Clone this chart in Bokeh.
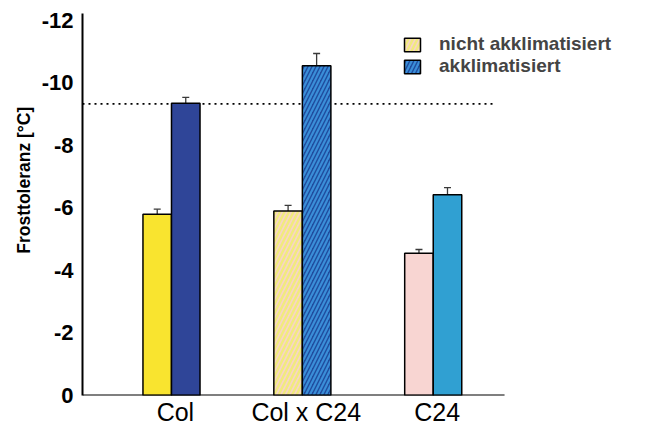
from bokeh.plotting import figure
from bokeh.models import (ColumnDataSource, Range1d, FixedTicker, Whisker, TeeHead,
                          Legend, LegendItem)
from bokeh.embed import file_html
from bokeh.resources import INLINE

# ---- data ----
cultivars = ["Col", "Col x C24", "C24"]
nicht_mean = [-5.8, -5.9, -4.55]
nicht_err = [0.16, 0.18, 0.12]
akkl_mean = [-9.35, -10.55, -6.42]
akkl_err = [0.19, 0.39, 0.23]
reference_level = -9.33
y_ticks = [0, -2, -4, -6, -8, -10, -12]
legend_labels = ["nicht akklimatisiert", "akklimatisiert"]
y_label = "Frosttoleranz [°C]"

# ---- styles ----
nicht_fill = ["#F9E42F", "#F7D4C8", "#F8D5D2"]
nicht_hatch_pat = [" ", "/", " "]
nicht_hatch_col = ["#F9E42F", "#F1EA7E", "#F8D5D2"]
akkl_fill = ["#2F4598", "#1F4C9E", "#30A0D2"]
akkl_hatch_pat = [" ", "/", " "]
akkl_hatch_col = ["#2F4598", "#3A8ED8", "#30A0D2"]

FONT = "Liberation Sans"
bw = 0.218
x_start, x_end = 0.32, 4.729      # frame extends under the legend
axis_end = 3.545                  # where the drawn x axis line stops
ref_end = 3.453                   # where the dotted reference line stops
centers = [i + 1 for i in range(len(cultivars))]

src_n = ColumnDataSource(dict(
    x=[c - bw / 2 for c in centers], top=nicht_mean,
    upper=[m - e for m, e in zip(nicht_mean, nicht_err)],
    lower=[m + e for m, e in zip(nicht_mean, nicht_err)],
    fill=nicht_fill, hp=nicht_hatch_pat, hc=nicht_hatch_col))
src_a = ColumnDataSource(dict(
    x=[c + bw / 2 for c in centers], top=akkl_mean,
    upper=[m - e for m, e in zip(akkl_mean, akkl_err)],
    lower=[m + e for m, e in zip(akkl_mean, akkl_err)],
    fill=akkl_fill, hp=akkl_hatch_pat, hc=akkl_hatch_col))

p = figure(width=659, height=428, output_backend="svg", toolbar_location=None,
           x_range=Range1d(x_start, x_end), y_range=Range1d(0, -12.22),
           min_border_left=82, min_border_right=0, min_border_top=13,
           min_border_bottom=33)
p.outline_line_color = None
p.grid.grid_line_color = None
p.background_fill_color = "white"
p.border_fill_color = "white"

# dotted reference line
p.segment(x0=[x_start], x1=[ref_end], y0=[reference_level], y1=[reference_level],
          line_color="black", line_width=1.6, line_dash="2 4")

r_n = p.vbar(x="x", top="top", bottom=0, width=bw, source=src_n,
             fill_color="fill", line_color="black", line_width=1.5,
             hatch_pattern="hp", hatch_color="hc", hatch_scale=9, hatch_weight=2.5)
r_a = p.vbar(x="x", top="top", bottom=0, width=bw, source=src_a,
             fill_color="fill", line_color="black", line_width=1.5,
             hatch_pattern="hp", hatch_color="hc", hatch_scale=8, hatch_weight=2.2)

for src in (src_n, src_a):
    w = Whisker(base="x", upper="upper", lower="lower", source=src,
                line_color="#3a3a3a", line_width=1.3,
                upper_head=TeeHead(size=7, line_color="#3a3a3a", line_width=1.3),
                lower_head=TeeHead(size=7, line_color="#3a3a3a", line_width=1.3))
    p.add_layout(w)

# x axis line (stops short of the legend area)
p.segment(x0=[x_start], x1=[axis_end], y0=[0], y1=[0], line_color="black", line_width=2)

# axes
p.xaxis.ticker = FixedTicker(ticks=[c + 0.03 for c in centers])
p.xaxis.major_label_overrides = {c + 0.03: name for c, name in zip(centers, cultivars)}
p.xaxis.axis_line_color = None
p.yaxis.ticker = FixedTicker(ticks=y_ticks)
p.yaxis.major_label_overrides = {t: str(t) for t in y_ticks}
p.yaxis.axis_line_color = "black"
p.yaxis.axis_line_width = 2
for ax in (p.xaxis, p.yaxis):
    ax.major_tick_line_color = None
    ax.minor_tick_line_color = None
    ax.major_tick_out = 0
    ax.major_tick_in = 0
    ax.minor_tick_out = 0
    ax.major_label_text_font = FONT
    ax.major_label_text_color = "black"
p.xaxis.major_label_text_font_size = "25px"
p.xaxis.major_label_standoff = 2
p.yaxis.major_label_text_font_size = "22px"
p.yaxis.major_label_text_font_style = "bold"
p.yaxis.major_label_standoff = 9

p.yaxis.axis_label = "\u00a0" * 10 + y_label
p.yaxis.axis_label_text_font = FONT
p.yaxis.axis_label_text_font_size = "17.5px"
p.yaxis.axis_label_text_font_style = "bold"
p.yaxis.axis_label_text_color = "black"
p.yaxis.axis_label_standoff = 5

legend = Legend(items=[LegendItem(label=legend_labels[0], renderers=[r_n], index=1),
                       LegendItem(label=legend_labels[1], renderers=[r_a], index=1)],
                location=(320, 318), padding=0, margin=0, spacing=0,
                glyph_width=20, glyph_height=17, label_standoff=17,
                label_text_font=FONT, label_text_font_size="19px",
                label_text_font_style="bold", border_line_color=None,
                background_fill_alpha=0)
p.add_layout(legend)

open("out.html", "w").write(file_html(p, INLINE))
